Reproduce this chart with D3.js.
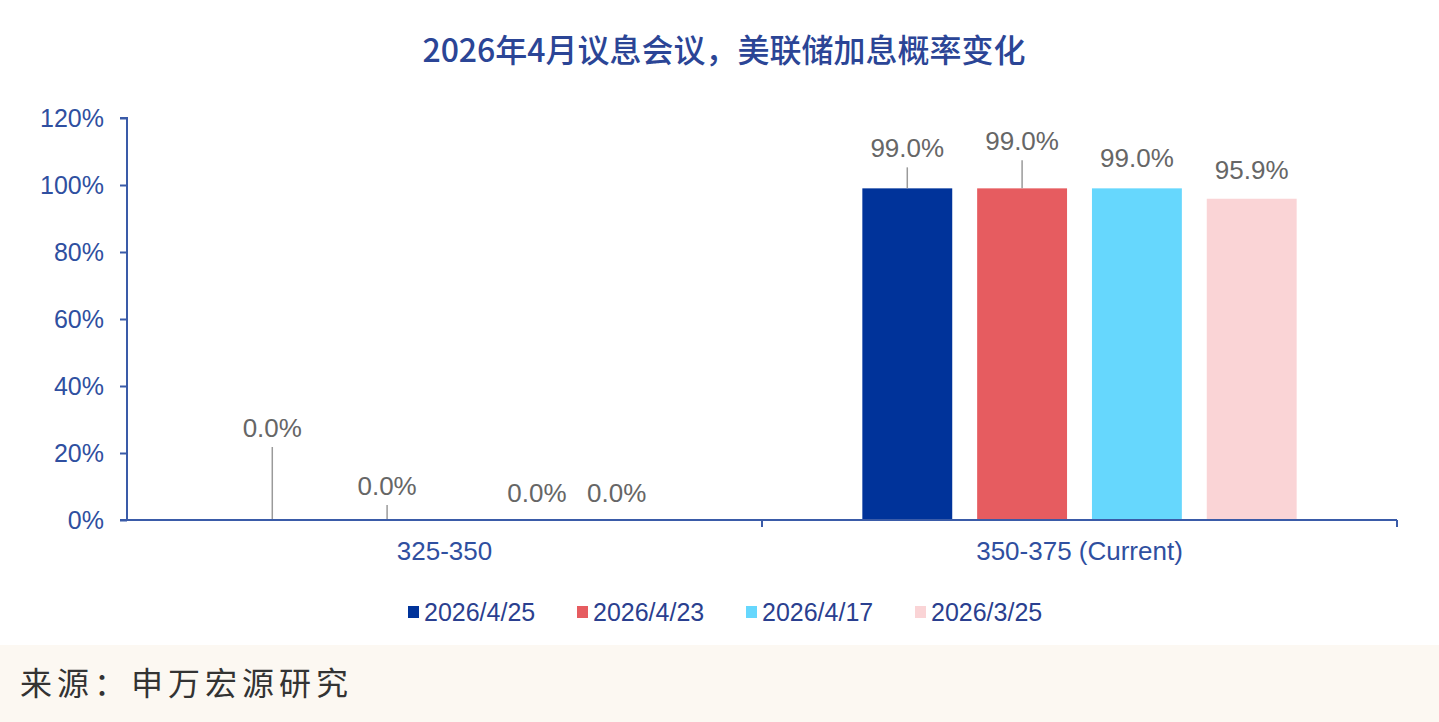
<!DOCTYPE html>
<html>
<head>
<meta charset="utf-8">
<script src="https://cdn.jsdelivr.net/npm/d3@7"></script>
<style>
  body { margin: 0; background: #fff; }
  svg { display: block; }
</style>
</head>
<body>
<svg id="canvas" width="1439" height="722"></svg>
<script>
// chart data
let categories = ['325-350', '350-375 (Current)']
let seriesNames = ['2026/4/25', '2026/4/23', '2026/4/17', '2026/3/25']
let seriesColors = ['#00339a', '#e65c60', '#66d7fd', '#fad4d6']
let values = [
    [0.0, 0.0, 0.0, 0.0],       // 325-350
    [99.0, 99.0, 99.0, 95.9]    // 350-375
]
let yTicks = [0, 20, 40, 60, 80, 100, 120]

// hand placed label lifts (px above bar top) and x nudges, like the excel original
let labelLift = [[92, 34, 27, 27], [40, 47, 30, 29]]
let labelNudge = [[0, 0, 35, 0], [0, 0, 0, 0]]

let canvas = d3.select('#canvas')
let axisColor = '#3a5ba8'
let font = '"Liberation Sans", Arial, sans-serif'

let plotLeft = 127, plotRight = 1397, plotTop = 118, plotBottom = 520

let y = d3.scaleLinear().domain([0, 120]).range([plotBottom, plotTop])
let x0 = d3.scaleBand().domain(categories).range([plotLeft, plotRight])
let x1 = d3.scaleBand().domain(seriesNames).range([0, x0.bandwidth()])
            .paddingInner(0.217).paddingOuter(0.874)

// title
canvas.append('text')
        .attr('x', 724).attr('y', 62)
        .attr('text-anchor', 'middle')
        .style('font-family', '"Noto Sans CJK SC", "Noto Sans", sans-serif')
        .style('font-size', '32px')
        .style('font-weight', '500')
        .style('fill', '#2b4596')
        .text('2026年4月议息会议，美联储加息概率变化')

// bars
let groups = canvas.selectAll('g.group')
        .data(values)
        .enter()
        .append('g')
        .attr('class', 'group')
        .attr('transform', (d, i) => 'translate(' + x0(categories[i]) + ',0)')

groups.each(function (row, gi) {
    let g = d3.select(this)
    g.selectAll('rect')
        .data(row)
        .enter()
        .append('rect')
        .attr('x', (d, i) => x1(seriesNames[i]))
        .attr('y', (d) => y(d))
        .attr('width', x1.bandwidth())
        .attr('height', (d) => plotBottom - y(d))
        .attr('fill', (d, i) => seriesColors[i])

    row.forEach((d, i) => {
        let cx = x1(seriesNames[i]) + x1.bandwidth() / 2
        let lift = labelLift[gi][i]
        let barTop = y(d)
        if (lift >= 34) {
            g.append('line')
                .attr('x1', cx).attr('x2', cx)
                .attr('y1', barTop - lift + 19).attr('y2', barTop)
                .attr('stroke', '#9a9a9a')
                .attr('stroke-width', 1.5)
        }
        g.append('text')
            .attr('x', cx + labelNudge[gi][i])
            .attr('y', barTop - lift + 9)
            .attr('text-anchor', 'middle')
            .style('font-family', font)
            .style('font-size', '26px')
            .style('fill', '#666')
            .text(d3.format('.1f')(d) + '%')
    })
})

// y axis
let yAxis = d3.axisLeft(y)
        .tickValues(yTicks)
        .tickSize(7)
        .tickPadding(16)
        .tickFormat((d) => d + '%')

let yg = canvas.append('g')
        .attr('transform', 'translate(' + plotLeft + ',0)')
        .call(yAxis)
yg.select('.domain').attr('stroke', axisColor).attr('stroke-width', 2)
        .attr('d', 'M-7,' + plotTop + 'H0V' + plotBottom + 'H-7')
yg.selectAll('.tick line').attr('stroke', axisColor).attr('stroke-width', 2)
yg.selectAll('.tick text')
        .style('font-family', font)
        .style('font-size', '25px')
        .style('fill', '#2f4fa0')

// x axis
let xg = canvas.append('g')
        .attr('transform', 'translate(0,' + plotBottom + ')')
xg.append('line')
        .attr('x1', plotLeft).attr('x2', plotRight)
        .attr('stroke', axisColor).attr('stroke-width', 2)
let dividers = categories.map((c) => x0(c) + x0.bandwidth())
xg.selectAll('line.div')
        .data(dividers)
        .enter()
        .append('line')
        .attr('class', 'div')
        .attr('x1', (d) => d).attr('x2', (d) => d)
        .attr('y1', 0).attr('y2', 7)
        .attr('stroke', axisColor).attr('stroke-width', 2)
xg.selectAll('text')
        .data(categories)
        .enter()
        .append('text')
        .attr('x', (d) => x0(d) + x0.bandwidth() / 2)
        .attr('y', 40)
        .attr('text-anchor', 'middle')
        .style('font-family', font)
        .style('font-size', '26px')
        .style('fill', '#2f4fa0')
        .text((d) => d)

// legend
let legendX = [408, 577, 746, 915]
let legend = canvas.selectAll('g.legend')
        .data(seriesNames)
        .enter()
        .append('g')
        .attr('class', 'legend')
        .attr('transform', (d, i) => 'translate(' + legendX[i] + ',612)')
legend.append('rect')
        .attr('x', 0).attr('y', -6)
        .attr('width', 11).attr('height', 12)
        .attr('fill', (d, i) => seriesColors[i])
legend.append('text')
        .attr('x', 16).attr('y', 9)
        .style('font-family', font)
        .style('font-size', '25px')
        .style('fill', '#2a3f8f')
        .text((d) => d)

// source footer
canvas.append('rect')
        .attr('x', 0).attr('y', 645)
        .attr('width', 1439).attr('height', 77)
        .attr('fill', '#fcf8f2')
canvas.append('text')
        .attr('x', 20).attr('y', 695)
        .style('font-family', '"Noto Sans CJK SC", sans-serif')
        .style('font-size', '32px')
        .style('letter-spacing', '5px')
        .style('fill', '#333')
        .text('来源：申万宏源研究')
</script>
</body>
</html>
